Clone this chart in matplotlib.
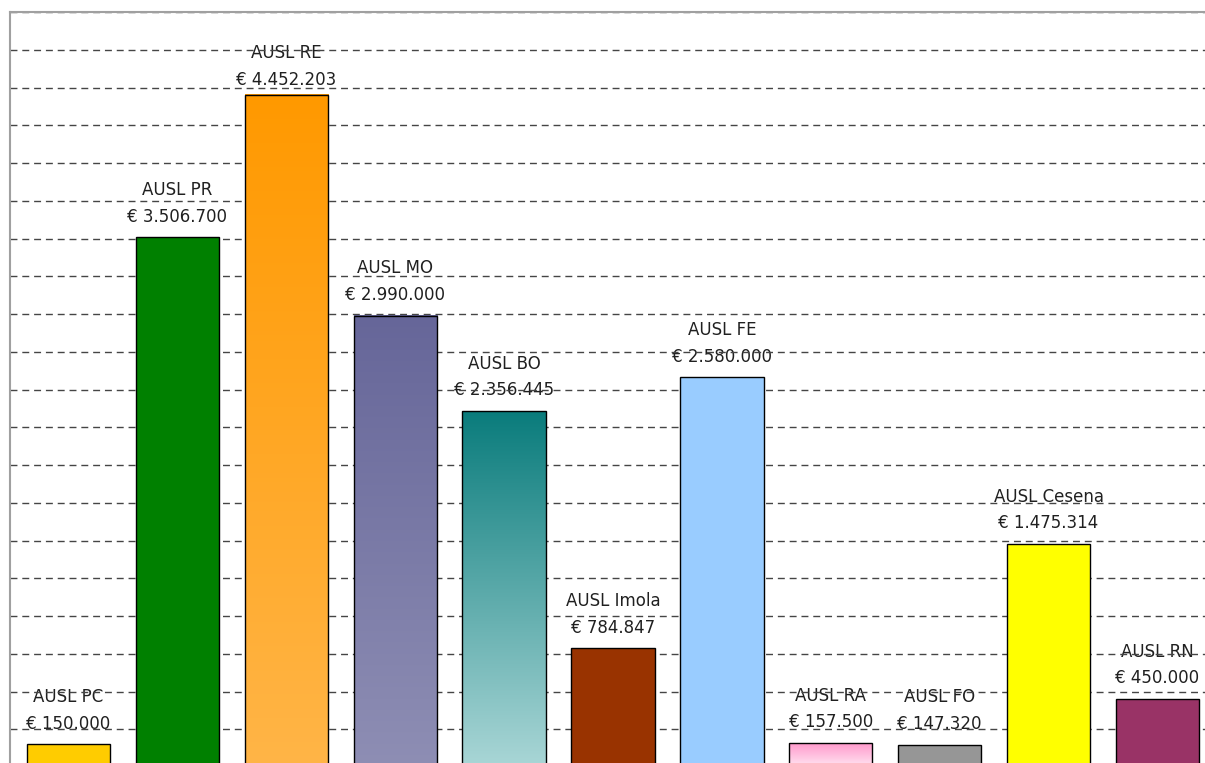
import numpy as np
import matplotlib.pyplot as plt
from matplotlib.colors import LinearSegmentedColormap, to_rgb

# AUSL budget per azienda
aziende = ['AUSL PC', 'AUSL PR', 'AUSL RE', 'AUSL MO', 'AUSL BO', 'AUSL Imola',
           'AUSL FE', 'AUSL RA', 'AUSL FO', 'AUSL Cesena', 'AUSL RN']
importi = [150000, 3506700, 4452203, 2990000, 2356445, 784847,
           2580000, 157500, 147320, 1475314, 450000]
# (top colour, bottom colour) - same colour means flat fill
colori = [('#FFCC00', '#FFCC00'), ('#008000', '#008000'), ('#FF9900', '#FFB547'),
          ('#666699', '#8E8EB4'), ('#0A7C7C', '#A9D6D6'), ('#993300', '#993300'),
          ('#99CCFF', '#99CCFF'), ('#FF99CC', '#FFE6F2'), ('#969696', '#969696'),
          ('#FFFF00', '#FFFF00'), ('#993366', '#993366')]


def euro(v):
    return '€ ' + format(v, ',d').replace(',', '.')


fig = plt.figure(figsize=(12.05, 7.63), dpi=100)
W, H = 1205.0, 763.0
slot = 108.9
ax_w = 1230.0
ax = fig.add_axes([10 / W, (763 - 767) / H, ax_w / W, 755 / H])

x0 = -0.537
ax.set_xlim(x0, x0 + ax_w / slot)
ax.set_ylim(0, 5000000)

bw = 0.765
for i, (nome, v, (ctop, cbot)) in enumerate(zip(aziende, importi, colori)):
    left = i - bw / 2
    if ctop == cbot:
        ax.bar(i, v, width=bw, color=ctop, edgecolor='black', linewidth=1, zorder=3)
    else:
        cmap = LinearSegmentedColormap.from_list('g%d' % i, [to_rgb(cbot), to_rgb(ctop)])
        grad = np.linspace(1, 0, 256).reshape(-1, 1)
        ax.imshow(grad, cmap=cmap, extent=[left, left + bw, 0, v], aspect='auto',
                  zorder=3, interpolation='bilinear')
        ax.bar(i, v, width=bw, facecolor='none', edgecolor='black', linewidth=1, zorder=4)
    # label pushed down a bit when it would leave the plot area (like Excel)
    off = 8.5 if v < 4200000 else 4
    ax.annotate(nome + '\n' + euro(v), xy=(i, v), xytext=(0, off), textcoords='offset points',
                ha='center', va='bottom', fontsize=12, color='#202020',
                linespacing=1.62, zorder=0.5)

ax.set_xlim(x0, x0 + ax_w / slot)
ax.set_yticks(np.arange(250000, 5000001, 250000))
ax.yaxis.grid(True, linestyle=(0, (5, 3.5)), color='#454545', linewidth=1, zorder=1)
ax.set_axisbelow(True)
ax.tick_params(left=False, bottom=False, labelleft=False, labelbottom=False)
for s in ['right', 'bottom']:
    ax.spines[s].set_visible(False)
for s in ['left', 'top']:
    ax.spines[s].set_color('#A0A0A0')
    ax.spines[s].set_linewidth(1.5)

fig.savefig('out.png', dpi=100)
